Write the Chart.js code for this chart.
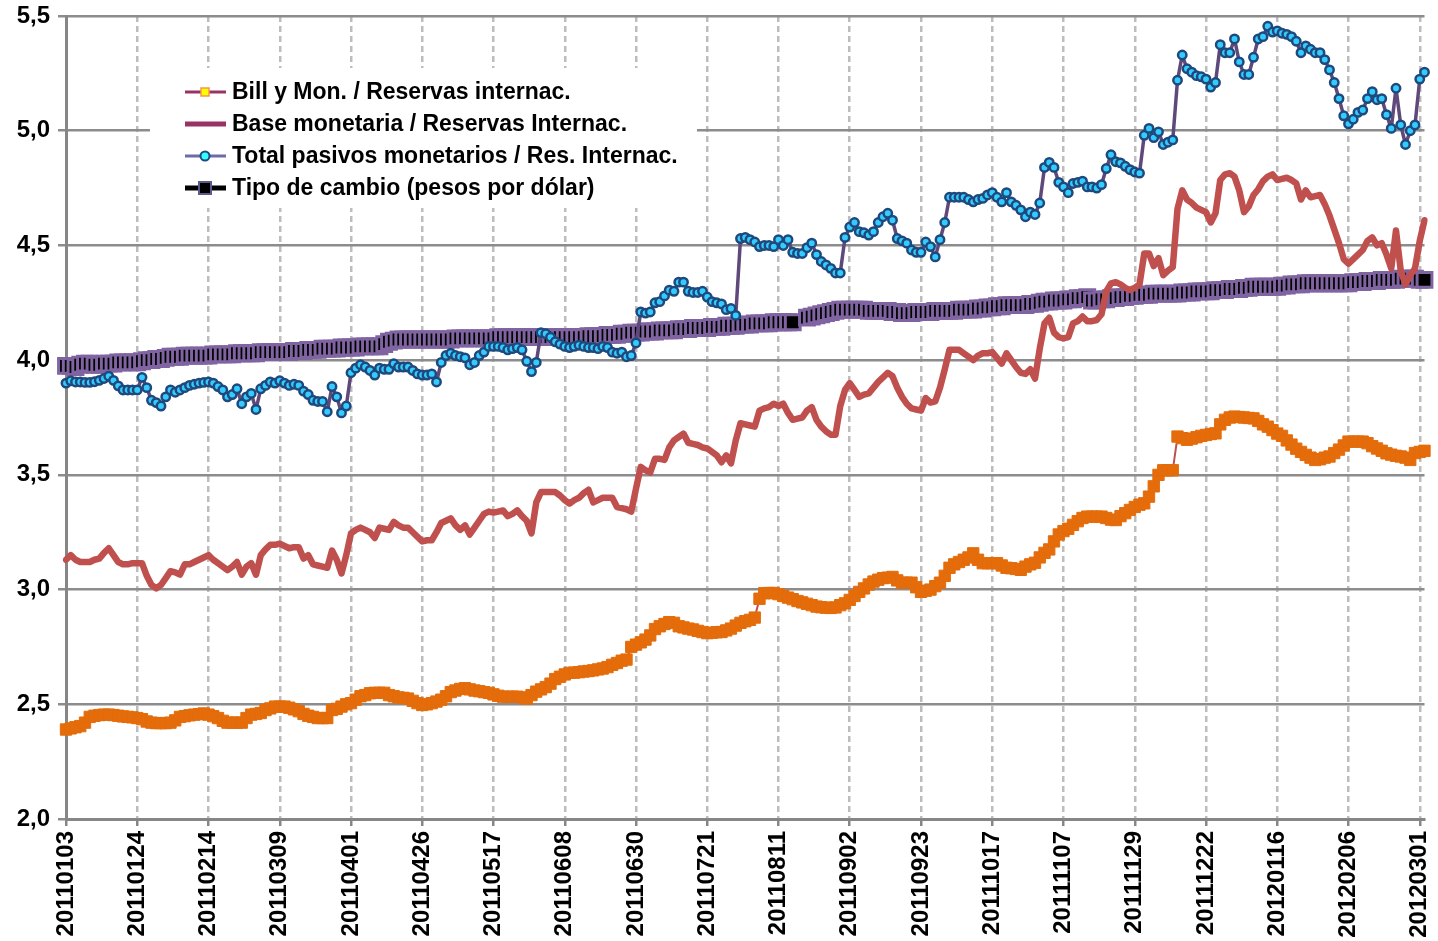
<!DOCTYPE html>
<html>
<head>
<meta charset="utf-8">
<script src="https://cdn.jsdelivr.net/npm/chart.js@4.4.1/dist/chart.umd.min.js"></script>
<style>
  html, body { margin: 0; padding: 0; background: #fff; }
  #chart { display: block; }
</style>
</head>
<body>
<canvas id="chart" width="1438" height="941"></canvas>
<script>
// Tick labels, one every 15 business days
const tickLabels = [
    '20110103', '20110124', '20110214', '20110309', '20110401', '20110426', '20110517',
    '20110608', '20110630', '20110721', '20110811', '20110902', '20110923', '20111017',
    '20111107', '20111129', '20111222', '20120116', '20120206', '20120301'
];
const TICK_EVERY = 15;

const seriesNames = [
    'Bill y Mon. / Reservas internac.',
    'Base monetaria / Reservas Internac.',
    'Total pasivos monetarios / Res. Internac.',
    'Tipo de cambio (pesos por dólar)'
];

// Bill y Mon. / Reservas internac. (one row per tick interval)
const billMon = [
    2.39, 2.395, 2.40, 2.405, 2.42, 2.445, 2.45, 2.453, 2.455, 2.455, 2.453, 2.45, 2.447, 2.445, 2.443,
    2.44, 2.435, 2.425, 2.42, 2.418, 2.418, 2.418, 2.42, 2.43, 2.445, 2.448, 2.452, 2.455, 2.457, 2.46,
    2.455, 2.448, 2.44, 2.428, 2.42, 2.42, 2.42, 2.42, 2.44, 2.455, 2.458, 2.462, 2.475, 2.482, 2.49,
    2.49, 2.49, 2.485, 2.478, 2.47, 2.458, 2.45, 2.445, 2.44, 2.44, 2.44, 2.475, 2.48, 2.49, 2.50,
    2.505, 2.52, 2.535, 2.54, 2.548, 2.55, 2.55, 2.55, 2.54, 2.535, 2.53, 2.528, 2.525, 2.515, 2.505,
    2.497, 2.50, 2.505, 2.512, 2.52, 2.535, 2.553, 2.56, 2.567, 2.57, 2.565, 2.56, 2.557, 2.553, 2.55,
    2.543, 2.537, 2.533, 2.533, 2.533, 2.533, 2.53, 2.525, 2.54, 2.555, 2.565, 2.575, 2.59, 2.61, 2.62,
    2.63, 2.637, 2.638, 2.64, 2.643, 2.645, 2.648, 2.652, 2.656, 2.662, 2.672, 2.68, 2.69, 2.695, 2.75,
    2.76, 2.77, 2.782, 2.80, 2.828, 2.84, 2.85, 2.858, 2.855, 2.84, 2.835, 2.83, 2.826, 2.82, 2.815,
    2.81, 2.812, 2.814, 2.815, 2.822, 2.83, 2.843, 2.855, 2.862, 2.868, 2.878, 2.96, 2.984, 2.985, 2.985,
    2.98, 2.972, 2.965, 2.958, 2.95, 2.944, 2.938, 2.932, 2.926, 2.923, 2.921, 2.92, 2.922, 2.932, 2.94,
    2.955, 2.972, 2.99, 3.005, 3.022, 3.035, 3.043, 3.05, 3.052, 3.055, 3.04, 3.03, 3.03, 3.03, 3.01,
    2.99, 2.995, 3.00, 3.015, 3.03, 3.06, 3.095, 3.11, 3.12, 3.13, 3.14, 3.158, 3.13, 3.115, 3.115,
    3.115, 3.115, 3.105, 3.095, 3.093, 3.09, 3.086, 3.10, 3.11, 3.117, 3.14, 3.16, 3.175, 3.21, 3.24,
    3.255, 3.265, 3.282, 3.298, 3.312, 3.318, 3.318, 3.318, 3.318, 3.312, 3.305, 3.303, 3.32, 3.333, 3.347,
    3.36, 3.37, 3.376, 3.405, 3.45, 3.50, 3.52, 3.52, 3.52, 3.667, 3.66, 3.653, 3.658, 3.664, 3.67,
    3.674, 3.678, 3.681, 3.72, 3.74, 3.75, 3.754, 3.752, 3.75, 3.748, 3.746, 3.735, 3.72, 3.71, 3.695,
    3.68, 3.67, 3.65, 3.632, 3.614, 3.60, 3.587, 3.575, 3.565, 3.568, 3.575, 3.58, 3.595, 3.61, 3.628,
    3.645, 3.645, 3.645, 3.645, 3.638, 3.625, 3.615, 3.605, 3.594, 3.588, 3.583, 3.58, 3.575, 3.565, 3.595,
    3.60, 3.605
];

// Base monetaria / Reservas Internac.
const baseMon = [
    3.13, 3.15, 3.13, 3.12, 3.12, 3.12, 3.13, 3.135, 3.16, 3.18, 3.15, 3.12, 3.11, 3.11, 3.115,
    3.115, 3.115, 3.06, 3.02, 3.005, 3.02, 3.05, 3.08, 3.075, 3.065, 3.11, 3.11, 3.12, 3.13, 3.14,
    3.15, 3.13, 3.115, 3.10, 3.085, 3.10, 3.12, 3.065, 3.10, 3.115, 3.065, 3.15, 3.175, 3.195, 3.195,
    3.20, 3.19, 3.18, 3.185, 3.185, 3.135, 3.15, 3.11, 3.105, 3.10, 3.095, 3.17, 3.13, 3.07, 3.15,
    3.245, 3.26, 3.27, 3.26, 3.25, 3.225, 3.27, 3.265, 3.26, 3.295, 3.28, 3.27, 3.27, 3.25, 3.23,
    3.21, 3.215, 3.215, 3.25, 3.29, 3.30, 3.31, 3.28, 3.26, 3.28, 3.24, 3.27, 3.30, 3.33, 3.34,
    3.335, 3.34, 3.345, 3.32, 3.33, 3.345, 3.32, 3.30, 3.245, 3.38, 3.425, 3.425, 3.425, 3.425, 3.41,
    3.39, 3.375, 3.39, 3.40, 3.42, 3.435, 3.38, 3.39, 3.40, 3.40, 3.40, 3.36, 3.355, 3.35, 3.34,
    3.44, 3.535, 3.52, 3.51, 3.57, 3.57, 3.565, 3.62, 3.65, 3.665, 3.68, 3.64, 3.635, 3.63, 3.62,
    3.615, 3.60, 3.585, 3.555, 3.585, 3.55, 3.65, 3.725, 3.72, 3.715, 3.71, 3.78, 3.79, 3.795, 3.81,
    3.80, 3.81, 3.77, 3.74, 3.745, 3.75, 3.78, 3.795, 3.74, 3.71, 3.69, 3.675, 3.675, 3.80, 3.87,
    3.90, 3.87, 3.84, 3.85, 3.855, 3.88, 3.905, 3.925, 3.945, 3.93, 3.88, 3.84, 3.81, 3.79, 3.785,
    3.78, 3.835, 3.815, 3.82, 3.88, 3.96, 4.045, 4.045, 4.045, 4.03, 4.015, 4.00, 4.02, 4.03, 4.03,
    4.035, 4.01, 3.985, 4.03, 4.00, 3.97, 3.945, 3.94, 3.96, 3.92, 4.05, 4.16, 4.185, 4.12, 4.10,
    4.095, 4.10, 4.16, 4.17, 4.19, 4.17, 4.17, 4.175, 4.20, 4.30, 4.335, 4.34, 4.33, 4.315, 4.305,
    4.315, 4.33, 4.465, 4.465, 4.41, 4.445, 4.37, 4.39, 4.405, 4.66, 4.74, 4.70, 4.685, 4.665, 4.655,
    4.645, 4.60, 4.64, 4.785, 4.81, 4.815, 4.80, 4.74, 4.645, 4.67, 4.72, 4.745, 4.78, 4.80, 4.81,
    4.785, 4.79, 4.795, 4.785, 4.77, 4.70, 4.74, 4.71, 4.715, 4.72, 4.68, 4.63, 4.57, 4.51, 4.44,
    4.42, 4.44, 4.46, 4.48, 4.52, 4.535, 4.50, 4.51, 4.46, 4.40, 4.565, 4.39, 4.33, 4.37, 4.40,
    4.52, 4.61
];

// Total pasivos monetarios / Res. Internac.
const totalPas = [
    3.90, 3.91, 3.905, 3.905, 3.903, 3.903, 3.906, 3.912, 3.92, 3.93, 3.912, 3.888, 3.87, 3.87, 3.87,
    3.87, 3.925, 3.88, 3.825, 3.815, 3.80, 3.84, 3.87, 3.86, 3.87, 3.88, 3.89, 3.895, 3.90, 3.903,
    3.905, 3.90, 3.885, 3.87, 3.84, 3.85, 3.875, 3.81, 3.84, 3.855, 3.785, 3.875, 3.89, 3.905, 3.90,
    3.91, 3.90, 3.89, 3.895, 3.89, 3.865, 3.85, 3.825, 3.82, 3.82, 3.775, 3.885, 3.84, 3.77, 3.80,
    3.945, 3.965, 3.98, 3.97, 3.955, 3.935, 3.965, 3.96, 3.96, 3.985, 3.97, 3.97, 3.97, 3.955, 3.94,
    3.935, 3.935, 3.94, 3.905, 3.99, 4.02, 4.03, 4.02, 4.015, 4.01, 3.98, 3.99, 4.02, 4.035, 4.06,
    4.06, 4.06, 4.055, 4.045, 4.05, 4.055, 4.045, 3.995, 3.95, 3.99, 4.12, 4.115, 4.10, 4.08, 4.07,
    4.06, 4.055, 4.06, 4.065, 4.06, 4.055, 4.055, 4.05, 4.06, 4.055, 4.035, 4.03, 4.035, 4.015, 4.02,
    4.075, 4.21, 4.205, 4.21, 4.25, 4.255, 4.28, 4.305, 4.30, 4.34, 4.34, 4.30, 4.295, 4.295, 4.30,
    4.275, 4.255, 4.25, 4.245, 4.22, 4.225, 4.195, 4.53, 4.535, 4.525, 4.515, 4.495, 4.50, 4.50, 4.495,
    4.525, 4.50, 4.525, 4.47, 4.465, 4.465, 4.49, 4.51, 4.46, 4.43, 4.415, 4.40, 4.38, 4.38, 4.535,
    4.58, 4.60, 4.56, 4.555, 4.545, 4.56, 4.60, 4.625, 4.64, 4.61, 4.53, 4.52, 4.51, 4.48, 4.47,
    4.47, 4.515, 4.495, 4.45, 4.525, 4.60, 4.71, 4.71, 4.71, 4.71, 4.70, 4.69, 4.70, 4.705, 4.72,
    4.73, 4.71, 4.69, 4.73, 4.69, 4.675, 4.655, 4.625, 4.645, 4.635, 4.685, 4.84, 4.862, 4.84, 4.775,
    4.755, 4.73, 4.77, 4.775, 4.78, 4.755, 4.755, 4.75, 4.765, 4.835, 4.895, 4.865, 4.86, 4.845, 4.83,
    4.82, 4.815, 4.98, 5.01, 4.97, 4.995, 4.94, 4.95, 4.96, 5.22, 5.33, 5.27, 5.255, 5.24, 5.235,
    5.225, 5.19, 5.21, 5.375, 5.34, 5.34, 5.40, 5.30, 5.245, 5.245, 5.32, 5.40, 5.41, 5.455, 5.43,
    5.435, 5.425, 5.42, 5.41, 5.39, 5.34, 5.37, 5.355, 5.34, 5.34, 5.31, 5.265, 5.21, 5.14, 5.065,
    5.03, 5.05, 5.08, 5.09, 5.14, 5.17, 5.135, 5.14, 5.07, 5.01, 5.185, 5.025, 4.94, 5.00, 5.025,
    5.225, 5.255
];

// Tipo de cambio (pesos por dólar); two missing days after 20110811
const tipoCambio = [
    3.975, 3.975, 3.97, 3.98, 3.985, 3.985, 3.98, 3.98, 3.985, 3.985, 3.985, 3.99, 3.99, 3.99, 3.99,
    3.99, 3.995, 4.00, 4.00, 4.005, 4.005, 4.01, 4.015, 4.015, 4.015, 4.02, 4.02, 4.02, 4.02, 4.02,
    4.02, 4.025, 4.025, 4.025, 4.025, 4.025, 4.03, 4.03, 4.03, 4.03, 4.03, 4.035, 4.035, 4.035, 4.035,
    4.035, 4.035, 4.035, 4.04, 4.04, 4.04, 4.045, 4.045, 4.045, 4.05, 4.05, 4.05, 4.05, 4.055, 4.055,
    4.055, 4.055, 4.06, 4.06, 4.06, 4.06, 4.06, 4.07, 4.08, 4.085, 4.09, 4.09, 4.09, 4.09, 4.09,
    4.09, 4.09, 4.09, 4.09, 4.09, 4.09, 4.09, 4.095, 4.095, 4.095, 4.095, 4.095, 4.095, 4.095, 4.095,
    4.095, 4.10, 4.10, 4.10, 4.10, 4.10, 4.10, 4.10, 4.10, 4.10, 4.10, 4.10, 4.10, 4.10, 4.10,
    4.10, 4.10, 4.10, 4.10, 4.10, 4.105, 4.105, 4.105, 4.105, 4.11, 4.11, 4.11, 4.115, 4.115, 4.12,
    4.12, 4.12, 4.125, 4.125, 4.125, 4.13, 4.13, 4.13, 4.13, 4.135, 4.135, 4.135, 4.14, 4.14, 4.14,
    4.14, 4.145, 4.145, 4.145, 4.15, 4.15, 4.15, 4.155, 4.155, 4.155, 4.16, 4.16, 4.16, 4.16, 4.165,
    4.165, 4.165, 4.165, 4.165, null, null, 4.185, 4.19, 4.195, 4.20, 4.205, 4.21, 4.215, 4.22, 4.22,
    4.22, 4.22, 4.22, 4.22, 4.215, 4.215, 4.215, 4.215, 4.215, 4.21, 4.21, 4.205, 4.205, 4.205, 4.21,
    4.21, 4.21, 4.21, 4.215, 4.215, 4.215, 4.215, 4.215, 4.22, 4.22, 4.22, 4.22, 4.225, 4.225, 4.23,
    4.23, 4.235, 4.235, 4.24, 4.24, 4.24, 4.24, 4.24, 4.245, 4.245, 4.25, 4.255, 4.255, 4.26, 4.26,
    4.26, 4.265, 4.265, 4.27, 4.27, 4.275, 4.26, 4.26, 4.265, 4.265, 4.27, 4.27, 4.275, 4.275, 4.28,
    4.28, 4.285, 4.285, 4.285, 4.29, 4.29, 4.29, 4.29, 4.29, 4.29, 4.295, 4.295, 4.295, 4.30, 4.30,
    4.30, 4.30, 4.305, 4.305, 4.305, 4.31, 4.31, 4.31, 4.315, 4.315, 4.32, 4.32, 4.32, 4.32, 4.32,
    4.32, 4.325, 4.325, 4.33, 4.33, 4.33, 4.335, 4.335, 4.335, 4.335, 4.335, 4.335, 4.335, 4.335, 4.335,
    4.335, 4.34, 4.34, 4.34, 4.345, 4.345, 4.345, 4.35, 4.35, 4.35, 4.35, 4.355, 4.355, 4.355, 4.355,
    4.35, 4.35
];

// one category slot per business day; the last day sits on the right edge
const slots = Array.from({ length: billMon.length }, (_, i) => i);

const FONT = '"Liberation Sans", Arial, sans-serif';
Chart.defaults.font.family = FONT;
Chart.defaults.font.weight = 'bold';
Chart.defaults.font.size = 24;
Chart.defaults.color = '#000';

const AXIS_GREY = '#868686';
const GRID_GREY = '#8c8c8c';
const DASH_GREY = '#bdbdbd';

// Legend sits inside the plot on a white box, styled like the original
const legendBox = {
    id: 'legendBox',
    beforeDatasetsDraw(chart) {
        const c = chart.ctx;
        const x0 = 185, x1 = 226, xm = 205, tx = 232;
        const rows = [92, 124, 156, 188];
        c.save();
        c.fillStyle = '#fff';
        c.fillRect(150, 68, 547, 140);

        // row 1
        c.strokeStyle = '#993366';
        c.lineWidth = 3;
        c.beginPath(); c.moveTo(x0, rows[0]); c.lineTo(x1, rows[0]); c.stroke();
        c.fillStyle = '#ffff00';
        c.fillRect(xm - 4, rows[0] - 4, 8, 8);
        c.strokeStyle = '#f79646';
        c.lineWidth = 1.5;
        c.strokeRect(xm - 4, rows[0] - 4, 8, 8);

        // row 2
        c.strokeStyle = '#993366';
        c.lineWidth = 5;
        c.beginPath(); c.moveTo(x0, rows[1]); c.lineTo(x1, rows[1]); c.stroke();

        // row 3
        c.strokeStyle = '#6c6ca8';
        c.lineWidth = 3;
        c.beginPath(); c.moveTo(x0, rows[2]); c.lineTo(x1, rows[2]); c.stroke();
        c.beginPath(); c.arc(xm, rows[2], 4.5, 0, Math.PI * 2);
        c.fillStyle = '#33ffff'; c.fill();
        c.strokeStyle = '#1f497d'; c.lineWidth = 2; c.stroke();

        // row 4
        c.strokeStyle = '#000';
        c.lineWidth = 5;
        c.beginPath(); c.moveTo(x0, rows[3]); c.lineTo(x1, rows[3]); c.stroke();
        c.fillStyle = '#000';
        c.fillRect(xm - 6, rows[3] - 6, 12, 12);
        c.strokeStyle = '#5a5a8c'; c.lineWidth = 2;
        c.strokeRect(xm - 6, rows[3] - 6, 12, 12);

        c.fillStyle = '#000';
        c.font = 'bold 23px ' + FONT;
        c.textBaseline = 'middle';
        seriesNames.forEach((name, i) => c.fillText(name, tx, rows[i] + 1));
        c.restore();
    }
};

new Chart(document.getElementById('chart'), {
    type: 'line',
    data: {
        labels: slots,
        datasets: [
            {
                label: seriesNames[3],
                data: tipoCambio,
                order: 4,
                spanGaps: true,
                borderColor: '#8064a2',
                borderWidth: 6,
                pointStyle: 'rect',
                pointRadius: 10.5,
                pointBackgroundColor: '#000',
                pointBorderColor: '#8064a2',
                pointBorderWidth: 3
            },
            {
                label: seriesNames[0],
                data: billMon,
                order: 3,
                borderColor: '#c0504d',
                borderWidth: 2,
                pointStyle: 'rect',
                pointRadius: 8,
                pointBackgroundColor: '#e46c0a',
                pointBorderColor: '#e46c0a',
                pointBorderWidth: 1
            },
            {
                label: seriesNames[1],
                data: baseMon,
                order: 2,
                borderColor: '#c0504d',
                borderWidth: 6.5,
                pointRadius: 0
            },
            {
                label: seriesNames[2],
                data: totalPas,
                order: 1,
                borderColor: '#5f497a',
                borderWidth: 3.5,
                pointStyle: 'circle',
                pointRadius: 4.2,
                pointBackgroundColor: '#33ccff',
                pointBorderColor: '#1f497d',
                pointBorderWidth: 2.5
            }
        ]
    },
    options: {
        responsive: false,
        animation: false,
        devicePixelRatio: 1,
        events: [],
        layout: { padding: { top: 16, right: 7, bottom: 0, left: 0 } },
        elements: {
            line: { tension: 0, borderJoinStyle: 'round', borderCapStyle: 'round' }
        },
        plugins: {
            legend: { display: false },
            tooltip: { enabled: false }
        },
        scales: {
            x: {
                type: 'category',
                offset: false,
                ticks: {
                    autoSkip: false,
                    minRotation: 90,
                    maxRotation: 90,
                    padding: 5,
                    // small lineHeight keeps the last rotated label from shrinking the plot
                    font: { size: 24, weight: 'bold', lineHeight: 0.2 },
                    // only every 15th day keeps a tick (and its dashed grid line)
                    callback: (v, i) => (i % TICK_EVERY === 0 && tickLabels[i / TICK_EVERY]) ? tickLabels[i / TICK_EVERY] : null
                },
                grid: {
                    color: DASH_GREY,
                    lineWidth: 2.5,
                    tickColor: AXIS_GREY,
                    tickLength: 7,
                    tickWidth: 2.5,
                    tickBorderDash: []
                },
                border: { color: AXIS_GREY, width: 3, dash: [6, 4] },
                afterFit: s => { s.height = 122; s.paddingLeft = 0; s.paddingRight = 0; }
            },
            y: {
                min: 2,
                max: 5.5,
                ticks: {
                    stepSize: 0.5,
                    padding: 8,
                    font: { size: 24, weight: 'bold' },
                    callback: v => v.toFixed(1).replace('.', ',')
                },
                grid: {
                    color: GRID_GREY,
                    lineWidth: 2.5,
                    tickColor: GRID_GREY,
                    tickLength: 8
                },
                border: { color: AXIS_GREY, width: 3 },
                afterFit: s => { s.width = 66; s.paddingTop = 0; s.paddingBottom = 0; }
            }
        }
    },
    plugins: [legendBox]
});
</script>
</body>
</html>
